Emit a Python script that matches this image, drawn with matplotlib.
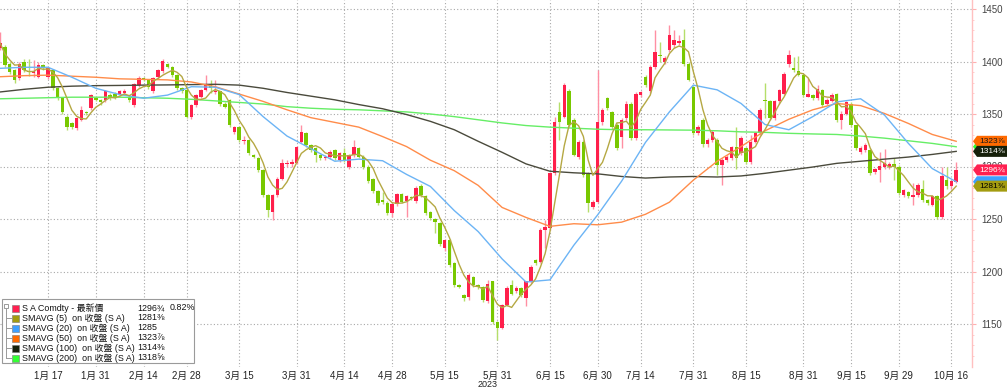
import numpy as np
import pandas as pd
import matplotlib
matplotlib.use('Agg')
import matplotlib.pyplot as plt
from matplotlib.patches import Polygon, Rectangle
from matplotlib.transforms import blended_transform_factory

plt.rcParams['font.family'] = ['Liberation Sans', 'DejaVu Sans', 'Noto Sans CJK TC']

# ---------------- data ----------------
holidays = ['2023-01-02', '2023-01-16', '2023-02-20', '2023-05-29',
            '2023-06-19', '2023-07-04', '2023-09-04']

opens = [
    1412.5, 1414, 1398, 1392, 1384, 1400, 1391, 1389, 1385.5, 1397,
    1385.5, 1392, 1374.5, 1365, 1347.5, 1341, 1336.5, 1344.5, 1352, 1355.5,
    1365, 1363.5, 1363.5, 1368, 1369, 1369, 1370, 1366, 1358.5, 1377.5,
    1384, 1382.5, 1372, 1385, 1390.5, 1398, 1395, 1387, 1374.5, 1373,
    1347.5, 1358.5, 1366.5, 1373, 1377.5, 1370.5, 1371.5, 1360, 1363, 1333,
    1338, 1324, 1325, 1311, 1308, 1297, 1273, 1257, 1273, 1288.5,
    1302, 1302.5, 1303, 1323.5, 1331.5, 1320.5, 1317.5, 1311, 1308, 1309.5,
    1315.5, 1306, 1312.5, 1300, 1311, 1317.5, 1309.5, 1300, 1288, 1277,
    1268, 1265.5, 1256, 1264, 1274, 1267, 1271, 1267, 1281.5, 1272,
    1257, 1250, 1246, 1222, 1230, 1208, 1187, 1177.5, 1176, 1195,
    1187, 1185, 1171.5, 1190.5, 1152, 1146, 1168, 1187, 1181, 1184,
    1174.5, 1190.5, 1211, 1209.5, 1239.5, 1241, 1293.5, 1352, 1347.5, 1371.5,
    1344.5, 1309.5, 1323.5, 1293.5, 1261.5, 1266.5, 1342.5, 1365, 1352, 1339.5,
    1328.5, 1346, 1360, 1327, 1368, 1385.5, 1371.5, 1395, 1406, 1400,
    1411, 1415.5, 1418, 1420.5, 1398, 1376, 1331.5, 1344.5, 1321, 1325,
    1325, 1301.5, 1306, 1308, 1319, 1312.5, 1317.5, 1304.5, 1323.5, 1331.5,
    1363.5, 1362, 1346, 1362, 1369.5, 1398, 1393.5, 1390.5, 1387, 1366.5,
    1368, 1365, 1373, 1360, 1362, 1369, 1344.5, 1350, 1360, 1339.5,
    1314, 1315.5, 1316, 1295, 1296.5, 1300, 1300, 1302, 1300, 1273,
    1276, 1271, 1273, 1279, 1268, 1263.5, 1271.5, 1252, 1287, 1281,
    1285.5]

highs = [
    1428.4, 1416, 1400, 1393, 1400, 1402, 1402, 1401, 1400, 1398,
    1395, 1393, 1376, 1366, 1349, 1342, 1347.5, 1357.5, 1353, 1369.5,
    1366, 1364.5, 1373, 1370, 1371, 1373, 1374, 1368, 1380, 1386,
    1385, 1383.5, 1385, 1393, 1402, 1399, 1396, 1388, 1375.5, 1374,
    1360, 1369, 1374, 1387, 1382, 1382, 1372, 1361, 1364, 1339,
    1339, 1329, 1326, 1312, 1309, 1298, 1274, 1274, 1290, 1307,
    1306, 1307, 1320, 1339.5, 1333, 1321.5, 1318.5, 1312, 1311, 1316,
    1317, 1314, 1318, 1312, 1325, 1319, 1311, 1301, 1289, 1278,
    1276, 1267, 1265, 1275, 1275, 1273, 1272, 1281, 1283, 1273,
    1258, 1251, 1247, 1231, 1231, 1209, 1188, 1178.5, 1199, 1196,
    1188, 1186, 1192, 1191, 1153, 1169, 1186, 1192, 1186, 1185,
    1191, 1206, 1212, 1241, 1249, 1295, 1347.5, 1361, 1380, 1374,
    1346, 1325, 1325, 1295, 1268, 1392, 1356, 1366.5, 1353, 1341,
    1346, 1362, 1361, 1371, 1372, 1387, 1397, 1430, 1419, 1405,
    1435, 1430, 1425, 1431, 1400, 1377, 1340, 1346, 1327, 1335,
    1327, 1308, 1311, 1320, 1338, 1329, 1319, 1330, 1333, 1356,
    1380, 1363, 1363, 1374, 1390, 1411, 1404.5, 1405, 1388, 1384,
    1369, 1378, 1374, 1365, 1370, 1370, 1353, 1362, 1361, 1340,
    1320, 1322, 1317, 1299, 1314, 1317, 1304, 1308, 1301, 1279,
    1277, 1284, 1284, 1287, 1269, 1273, 1273, 1300, 1300, 1287,
    1304.5]

lows = [
    1411, 1395, 1388, 1380, 1382, 1390, 1386, 1385, 1384, 1392,
    1383, 1373, 1363, 1350, 1335, 1336, 1335, 1343, 1349, 1354,
    1362, 1359, 1361, 1363, 1364, 1367, 1368, 1361, 1357, 1376,
    1381, 1374, 1370, 1383, 1389, 1394, 1385, 1373, 1370, 1346,
    1345, 1357, 1365, 1372, 1370, 1369, 1358, 1356, 1338, 1331,
    1323, 1321, 1311, 1308, 1295, 1271, 1252, 1249, 1271, 1287,
    1300, 1300, 1302, 1322, 1319, 1314, 1304, 1306, 1306, 1307,
    1306, 1304, 1304, 1298, 1309, 1308, 1298, 1284, 1275, 1263,
    1264, 1254, 1252, 1262, 1265, 1252, 1268, 1265, 1271, 1254,
    1249, 1237, 1224, 1220, 1204, 1185, 1184, 1172, 1173, 1185,
    1183, 1171, 1170, 1150, 1135, 1145, 1167, 1178, 1180, 1176,
    1167, 1189, 1206, 1208, 1222, 1240, 1292, 1325, 1346, 1338,
    1310, 1307, 1290, 1257, 1260, 1265, 1340, 1354, 1336, 1316,
    1318, 1344, 1325, 1325, 1366, 1376, 1370, 1393, 1400, 1398,
    1409, 1413, 1416, 1396, 1381, 1330, 1330, 1319, 1319, 1323,
    1292, 1282, 1304, 1306, 1298, 1311, 1302, 1302, 1322, 1330,
    1346, 1344, 1344, 1360, 1368, 1395, 1390, 1386, 1366, 1366,
    1363, 1363, 1357, 1359, 1361, 1342, 1336, 1349, 1338, 1316,
    1312, 1314, 1292, 1293, 1285, 1298, 1298, 1287, 1273, 1271,
    1270, 1263, 1271, 1266, 1263, 1262, 1250, 1250, 1279, 1279,
    1284]

closes = [
    1417.3, 1397, 1390, 1382, 1398, 1392, 1390, 1390.5, 1397, 1393.5,
    1393.5, 1374.5, 1365, 1352, 1338, 1338, 1346, 1354, 1350.5, 1368,
    1363.5, 1361, 1371.5, 1365, 1366, 1371.5, 1371.5, 1363, 1379, 1384.5,
    1382.5, 1376, 1384, 1392, 1400, 1395, 1387, 1374.5, 1372, 1347.5,
    1358.5, 1368, 1373, 1379, 1374.5, 1371.5, 1360, 1357, 1339.5, 1338,
    1325, 1325.5, 1312.5, 1309.5, 1297, 1273, 1258.5, 1273, 1288.5, 1303,
    1303.5, 1304, 1319, 1333, 1320.5, 1315.5, 1311, 1308, 1309.5, 1314,
    1308, 1312.5, 1306, 1311, 1319, 1309.5, 1300, 1286, 1277, 1265,
    1266, 1255.5, 1264, 1274, 1266.5, 1272, 1270, 1280, 1273, 1256,
    1251, 1247.5, 1226, 1230, 1206, 1187, 1185.5, 1174.5, 1196.5, 1187,
    1185, 1173, 1188.5, 1152, 1146, 1168, 1184, 1179, 1184, 1177.5,
    1190.5, 1204.5, 1208, 1239.5, 1242.5, 1293.5, 1342.5, 1342.5, 1377.5, 1339.5,
    1311, 1323.5, 1292, 1265, 1266.5, 1342.5, 1354, 1355.5, 1338, 1317.5,
    1344.5, 1360, 1327, 1369.5, 1371, 1377.5, 1395, 1409.5, 1405, 1403,
    1425, 1420.5, 1420, 1398, 1382.5, 1331.5, 1338, 1321, 1325, 1333,
    1301.5, 1306, 1309.5, 1319, 1308, 1327, 1304.5, 1323.5, 1331.5, 1354,
    1362, 1346, 1362, 1373, 1388.5, 1406, 1392, 1387, 1368, 1369.5,
    1365, 1374, 1358.5, 1363.5, 1368, 1344, 1350, 1361, 1339.5, 1317.5,
    1317.5, 1320.5, 1293.5, 1298, 1300, 1303, 1302, 1300, 1274.5, 1277.5,
    1272, 1273, 1282.5, 1268, 1265, 1271.5, 1252, 1290.5, 1281, 1286.25,
    1296.75]

# moving averages read every 5 trading days (index 0, 5, ..., 200)
ma_step = 5
sma20 = [1393.5, 1394.5, 1394.5, 1385, 1374.5, 1368.5, 1365, 1368, 1376, 1375.5,
         1368.5, 1347.5, 1329, 1317, 1305, 1307, 1305.5, 1292.5, 1281, 1258,
         1238, 1212, 1190, 1192, 1225, 1254, 1286, 1323, 1352, 1377.5,
         1373, 1360, 1340, 1335, 1347.5, 1361.5, 1364.5, 1349, 1322, 1298,
         1285.5]
sma50 = [1385.5, 1386.5, 1387, 1386, 1385, 1383.5, 1383, 1382.5, 1380.5, 1376,
         1369, 1362, 1354, 1346.5, 1342, 1337.5, 1328.5, 1319, 1306, 1296,
         1282, 1261, 1251.5, 1243, 1245.5, 1244.5, 1247, 1254.5, 1266, 1287,
         1305, 1319, 1334, 1345, 1354, 1360, 1358, 1350.5, 1341, 1330.5,
         1324]
sma100 = [1371, 1373.5, 1375.5, 1376.5, 1377, 1377.2, 1377.5, 1377.7, 1378, 1378.3,
          1377.5, 1374.5, 1370.5, 1367, 1363.5, 1359, 1355, 1349.5, 1343, 1335,
          1324, 1313.5, 1302.5, 1295.5, 1294, 1293, 1290.5, 1289, 1290, 1290.5,
          1290, 1291, 1293.5, 1296.5, 1299.5, 1303, 1305, 1307, 1309, 1311.5,
          1314.4]
sma200 = [1364.5, 1365, 1365.5, 1366, 1366, 1366, 1365.5, 1365, 1364, 1362.5,
          1361, 1359.5, 1357, 1355.5, 1354.5, 1354, 1353, 1352, 1350, 1347.5,
          1344.5, 1341.5, 1339, 1337.5, 1336.5, 1335.5, 1335, 1335, 1334.8, 1334.6,
          1334, 1333, 1332.5, 1331.6, 1331, 1330.5, 1329, 1327, 1324.5, 1322,
          1318.8]

tick_dates = ['2023-01-17', '2023-01-31', '2023-02-14', '2023-02-28', '2023-03-15',
              '2023-03-31', '2023-04-14', '2023-04-28', '2023-05-15', '2023-05-31',
              '2023-06-15', '2023-06-30', '2023-07-14', '2023-07-31', '2023-08-15',
              '2023-08-31', '2023-09-15', '2023-09-29', '2023-10-16']
tick_labels = ['1月 17', '1月 31', '2月 14', '2月 28', '3月 15', '3月 31', '4月 14',
               '4月 28', '5月 15', '5月 31', '6月 15', '6月 30', '7月 14', '7月 31',
               '8月 15', '8月 31', '9月 15', '9月 29', '10月 16']
yticks = [1150, 1200, 1250, 1300, 1350, 1400, 1450]

legend_names = ['S A Comdty - 最新價', 'SMAVG (5)  on 收盤 (S A)', 'SMAVG (20)  on 收盤 (S A)',
                'SMAVG (50)  on 收盤 (S A)', 'SMAVG (100)  on 收盤 (S A)',
                'SMAVG (200)  on 收盤 (S A)']
legend_values = ['1296¾', '1281⅜', '1285', '1323⅞', '1314⅜', '1318⅝']
last_change = '0.82%'

# ---------------- styling ----------------
RED, RED_W = '#ff1f4b', '#ff8fa3'
GRN, GRN_W = '#78c800', '#b5de6a'
C5, C20, C50, C100, C200 = '#b5a843', '#6cb4f5', '#ff8c4a', '#4a4a3c', '#66ee66'
SW = ['#ff2050', '#a39c10', '#3ea0ff', '#ff6a00', '#16200a', '#33ff33']

W, H = 1007, 391
fig = plt.figure(figsize=(W / 100, H / 100), dpi=100)
fig.patch.set_facecolor('white')
ax_bottom = 24 / H
ax = fig.add_axes([0, ax_bottom, 972 / W, 1 - ax_bottom])

days = pd.bdate_range('2022-12-30', '2023-10-17')
days = days[~days.isin(pd.to_datetime(holidays))]
n = min(len(days), len(opens), len(closes), len(highs), len(lows))
x = np.arange(n)
O = np.array(opens[:n]); C = np.array(closes[:n])
Hh = np.maximum(np.array(highs[:n]), np.maximum(O, C))
Ll = np.minimum(np.array(lows[:n]), np.minimum(O, C))
up = C >= O

# wicks & bodies
ax.vlines(x, Ll, Hh, colors=np.where(up, RED_W, GRN_W), lw=1.0, zorder=2)
bottoms = np.minimum(O, C)
heights = np.maximum(np.abs(C - O), 0.8)
ax.bar(x, heights, bottom=bottoms, width=0.72, color=np.where(up, RED, GRN),
       linewidth=0, zorder=3)

# moving averages
sma5 = pd.Series(C).rolling(5, min_periods=1).mean().values
ax.plot(x, sma5, color=C5, lw=1.0, zorder=5)
xm = np.arange(0, n, ma_step)[:len(sma20)]
ax.plot(xm, sma200, color=C200, lw=1.0, zorder=4)
ax.plot(xm, sma100, color=C100, lw=1.0, zorder=4)
ax.plot(xm, sma50, color=C50, lw=1.0, zorder=4)
ax.plot(xm, sma20, color=C20, lw=1.0, zorder=4)

# axes ranges
px_per = 4.78
ax.set_xlim(-0.2 / px_per, (972 - 0.2) / px_per)
ax.set_ylim(1450 - 358 / 1.05, 1450 + 9 / 1.05)

# ticks
tick_pos = [days.get_loc(pd.Timestamp(d)) for d in tick_dates]
ax.set_xticks(tick_pos)
ax.set_xticklabels(tick_labels, fontsize=7, color='#222222')
ax.tick_params(axis='x', length=0, pad=3)
ax.yaxis.tick_right()
ax.set_yticks(yticks)
ax.set_yticklabels([str(v) for v in yticks], fontsize=7, color='#444444')
ax.set_yticks(np.arange(1120, 1460, 10), minor=True)
ax.tick_params(axis='y', which='major', length=3, color='#ffb0b0', pad=4)
ax.tick_params(axis='y', which='minor', length=1.5, color='#ffc8c8')
for s in ['top', 'left', 'bottom']:
    ax.spines[s].set_visible(False)
ax.spines['right'].set_color('#ffc0c0')
ax.spines['right'].set_linewidth(1.0)
ax.grid(True, which='major', color='#a8a8a8', linestyle=(0, (1, 2)), lw=0.8)
ax.set_axisbelow(True)

ax.text(tick_pos[9] - 2, -0.036, '2023',
        transform=blended_transform_factory(ax.transData, ax.transAxes),
        fontsize=6.5, color='#222222', ha='center', va='top')

# right side value tags (green and blue ones sit hidden behind the others)
btr = blended_transform_factory(fig.transFigure, ax.transData)
half = 5.5 / 1.05
tags = [(sma200[-1], SW[5], None, legend_values[5]),
        (sma20[-1], SW[2], None, legend_values[2]),
        (sma50[-1], SW[3], '#1a1a1a', legend_values[3]),
        (sma100[-1], SW[4], '#ffffff', legend_values[4]),
        (C[-1], SW[0], '#ffffff', legend_values[0]),
        (sma5[-1], SW[1], '#000000', legend_values[1])]
for v, fc, tc, txt in tags:
    pts = [(973 / W, v), (977 / W, v + half), (1.0, v + half), (1.0, v - half), (977 / W, v - half)]
    poly = Polygon(pts, closed=True, transform=btr, facecolor=fc, edgecolor='none',
                   clip_on=False, zorder=20)
    fig.add_artist(poly)
    if tc is not None:
        fig.text(979 / W, v, txt, transform=btr, fontsize=6.0, color=tc, va='center',
                 ha='left', zorder=21)

# legend box
def fx(px):
    return px / W


def fy(py):
    return 1 - py / H


fig.add_artist(Rectangle((fx(2), fy(363)), fx(194) - fx(2), fy(299) - fy(363),
                         transform=fig.transFigure, facecolor='white', edgecolor='#9a9a9a',
                         lw=0.8, zorder=10))
rows = [308, 318, 328, 338, 348, 358]
fig.add_artist(plt.Line2D([fx(6), fx(6)], [fy(309), fy(358)], transform=fig.transFigure,
                          color='#9a9a9a', lw=0.7, zorder=11))
fig.add_artist(Rectangle((fx(4), fy(308)), fx(4), 4 / H, transform=fig.transFigure,
                         facecolor='white', edgecolor='#8a8a8a', lw=0.6, zorder=12))
for k, ry in enumerate(rows):
    if k > 0:
        fig.add_artist(plt.Line2D([fx(6), fx(11)], [fy(ry), fy(ry)], transform=fig.transFigure,
                                  color='#9a9a9a', lw=0.7, zorder=11))
    fig.add_artist(Rectangle((fx(12), fy(ry + 3.5)), 7 / W, 7 / H, transform=fig.transFigure,
                             facecolor=SW[k], edgecolor='#777777', lw=0.4, zorder=12))
    fig.text(fx(22), fy(ry), legend_names[k], fontsize=6.4, color='#111111', va='center',
             ha='left', zorder=12)
    fig.text(fx(137), fy(ry), legend_values[k], fontsize=6.4, color='#111111', va='center',
             ha='left', zorder=12)
fig.text(fx(170), fy(rows[0]), last_change, fontsize=6.4, color='#111111', va='center',
         ha='left', zorder=12)

fig.savefig('out.png', dpi=100, facecolor='white')
